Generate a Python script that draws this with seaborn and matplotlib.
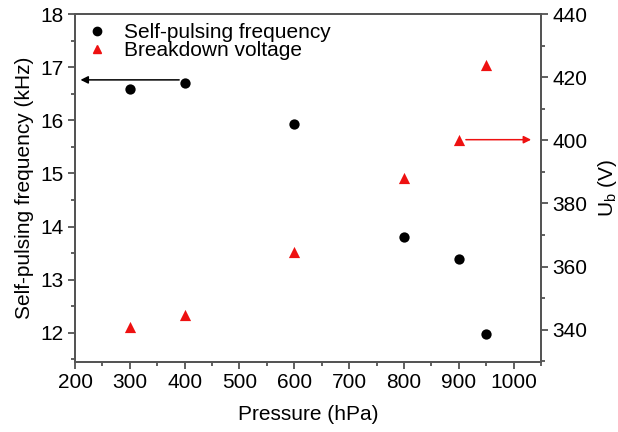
import matplotlib
matplotlib.use("Agg")
import matplotlib.pyplot as plt
import seaborn as sns
import pandas as pd
from matplotlib.ticker import MultipleLocator
from matplotlib.lines import Line2D

sns.set_style("ticks")
plt.rcParams['font.family'] = ['Liberation Sans', 'DejaVu Sans']
plt.rcParams['mathtext.fontset'] = 'custom'
plt.rcParams['mathtext.rm'] = 'Liberation Sans'
plt.rcParams['mathtext.it'] = 'Liberation Sans'
plt.rcParams['text.color'] = 'black'
plt.rcParams['axes.labelcolor'] = 'black'

pressure = [300, 400, 600, 800, 900, 950]
frequency = [16.58, 16.7, 15.93, 13.81, 13.38, 11.98]
voltage = [340.8, 344.8, 364.5, 388.2, 400.2, 424.0]

df = pd.DataFrame({"pressure": pressure, "frequency": frequency, "voltage": voltage})

W, H = 618, 432
fig = plt.figure(figsize=(W / 100, H / 100), dpi=100)
L, R, T, B = 75, 541, 14, 362
ax = fig.add_axes([L / W, (H - B) / H, (R - L) / W, (B - T) / H])
ax2 = ax.twinx()

red = "#ee1111"
sns.scatterplot(data=df, x="pressure", y="frequency", ax=ax, color="black",
                marker="o", s=55, linewidth=0, zorder=3, legend=False)
sns.scatterplot(data=df, x="pressure", y="voltage", ax=ax2, color=red,
                marker="^", s=65, linewidth=0, zorder=3, legend=False)

ax.set_xlim(200, 1050)
ax.set_ylim(11.45, 18)
ax2.set_ylim(329.8, 440)

ax.xaxis.set_major_locator(MultipleLocator(100))
ax.xaxis.set_minor_locator(MultipleLocator(50))
ax.yaxis.set_major_locator(MultipleLocator(1))
ax.yaxis.set_minor_locator(MultipleLocator(0.5))
ax2.yaxis.set_major_locator(MultipleLocator(20))
ax2.yaxis.set_minor_locator(MultipleLocator(10))

fs = 15
for a in (ax, ax2):
    a.tick_params(which="major", direction="out", length=5, width=1.2, labelsize=fs,
                  color="#444444", labelcolor="black", pad=3)
    a.tick_params(which="minor", direction="out", length=3, width=1.2, color="#444444")
    for sp in a.spines.values():
        sp.set_linewidth(1.4)
        sp.set_color("#555555")

ax.set_xlabel("Pressure (hPa)", fontsize=fs, labelpad=9)
ax.set_ylabel("Self-pulsing frequency (kHz)", fontsize=fs, labelpad=5)
ax2.set_ylabel("U$_\\mathregular{b}$ (V)", fontsize=fs, labelpad=6)

# arrows
ax.annotate("", xy=(210, 16.76), xytext=(390, 16.76),
            arrowprops=dict(arrowstyle="-|>", color="black", lw=1.1, mutation_scale=11,
                            shrinkA=0, shrinkB=0))
ax2.annotate("", xy=(1032, 400.2), xytext=(913, 400.2),
             arrowprops=dict(arrowstyle="-|>", color=red, lw=1.1, mutation_scale=11,
                             shrinkA=0, shrinkB=0))

# legend
handles = [Line2D([], [], marker="o", color="black", linestyle="none", markersize=6),
           Line2D([], [], marker="^", color=red, linestyle="none", markersize=6)]
ax.legend(handles, ["Self-pulsing frequency", "Breakdown voltage"], loc="upper left",
          frameon=False, fontsize=fs, handletextpad=0.7, borderaxespad=0.0,
          labelspacing=-0.05, handlelength=1.2, bbox_to_anchor=(0.003, 0.998))

fig.savefig("out.png", dpi=100)
